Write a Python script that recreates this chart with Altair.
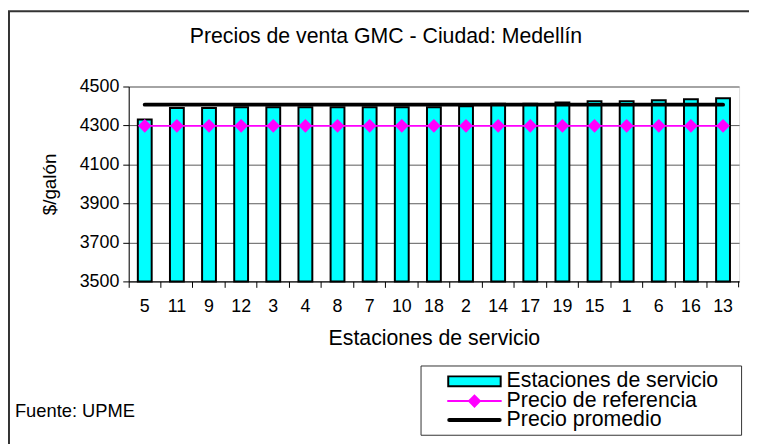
import altair as alt
import pandas as pd

# ---- data ----
estaciones = ["5", "11", "9", "12", "3", "4", "8", "7", "10", "18",
              "2", "14", "17", "19", "15", "1", "6", "16", "13"]
precios = [4331, 4390, 4390, 4393, 4393, 4393, 4393, 4393, 4393, 4393,
           4398, 4412, 4412, 4418, 4425, 4425, 4430, 4435, 4440]
precio_referencia = [4298] * len(estaciones)
precio_promedio = [4407] * len(estaciones)
y_ticks = [3500, 3700, 3900, 4100, 4300, 4500]

legend_items = ["Estaciones de servicio", "Precio de referencia", "Precio promedio"]
titulo = "Precios de venta GMC - Ciudad: Medellín"
fuente_txt = "Fuente: UPME"

FONT = "Liberation Sans"

df = pd.DataFrame({
    "estacion": estaciones,
    "precio": precios,
    "base": [3500] * len(estaciones),
    "ref": precio_referencia,
    "prom": precio_promedio,
})

W, H = 617, 197

x_axis = alt.Axis(
    title="Estaciones de servicio", labelAngle=0, bandPosition=0,
    labelFont=FONT, labelFontSize=18, labelColor="black", labelPadding=10,
    labelOverlap=False,
    titleFont=FONT, titleFontSize=21.5, titleFontWeight="normal", titleColor="black",
    titlePadding=13, tickSize=6, tickColor="black", domainColor="black",
    grid=False,
)
x_scale = alt.Scale(paddingInner=0, paddingOuter=0)
y_scale = alt.Scale(domain=[3500, 4500], zero=False, nice=False)
y_axis = alt.Axis(
    title="$/galón", values=y_ticks, format="d", labelOverlap=False,
    labelFont=FONT, labelFontSize=18, labelColor="black", labelPadding=4,
    titleFont=FONT, titleFontSize=19, titleFontWeight="normal", titleColor="black",
    titlePadding=20, tickSize=6, tickColor="black", domainColor="black",
    grid=True, gridColor="#5a5a5a", gridWidth=1, gridOpacity=1,
)


def xe():
    return alt.X("estacion:N", sort=estaciones, scale=x_scale, axis=x_axis)


def ye(field):
    return alt.Y(f"{field}:Q", scale=y_scale, axis=y_axis)


base = alt.Chart(df)

bars = base.mark_bar(color="#00FFFF", stroke="black", strokeWidth=2, size=14).encode(
    x=xe(), y=ye("precio"), y2="base:Q",
)

prom = base.mark_line(color="black", strokeWidth=4, strokeCap="round").encode(
    x=xe(), y=ye("prom"),
)

ref = base.mark_line(
    color="#FF00FF", strokeWidth=2,
    point=alt.OverlayMarkDef(shape="diamond", filled=True, color="#FF00FF", size=190, opacity=1),
).encode(
    x=xe(), y=ye("ref"),
)

one = pd.DataFrame({"a": [0]})

# closing tick at the right end of the category axis
end_tick = alt.Chart(one).mark_rule(color="black", strokeWidth=1).encode(
    x=alt.value(W - 0.5), y=alt.value(H), y2=alt.value(H + 6)
)

# ---- legend box (decoration) ----
leg_box = alt.Chart(one).mark_rect(
    fill="white", stroke="#333", strokeWidth=1
).encode(x=alt.value(295.5), x2=alt.value(619.5), y=alt.value(282.5), y2=alt.value(352.5))
leg_swatch = alt.Chart(one).mark_rect(
    fill="#00FFFF", stroke="black", strokeWidth=2
).encode(x=alt.value(323), x2=alt.value(376), y=alt.value(293), y2=alt.value(303))
leg_ref_line = alt.Chart(one).mark_rule(
    color="#FF00FF", strokeWidth=2
).encode(x=alt.value(322), x2=alt.value(377), y=alt.value(318))
leg_ref_pt = alt.Chart(one).mark_point(
    shape="diamond", filled=True, color="#FF00FF", size=190, opacity=1
).encode(x=alt.value(349.5), y=alt.value(318))
leg_prom_line = alt.Chart(one).mark_rule(
    color="black", strokeWidth=4, strokeCap="round"
).encode(x=alt.value(324), x2=alt.value(375), y=alt.value(337))

leg_texts = [
    alt.Chart(pd.DataFrame({"t": [lbl]})).mark_text(
        font=FONT, fontSize=21.5, align="left", baseline="middle", color="black"
    ).encode(x=alt.value(382), y=alt.value(yy), text="t:N")
    for lbl, yy in zip(legend_items, [298, 318, 337])
]

fuente = alt.Chart(pd.DataFrame({"t": [fuente_txt]})).mark_text(
    font=FONT, fontSize=18.5, align="left", baseline="middle", color="black"
).encode(x=alt.value(-115), y=alt.value(328), text="t:N")

title_mark = alt.Chart(pd.DataFrame({"t": [titulo]})).mark_text(
    font=FONT, fontSize=21.5, align="center", baseline="middle", color="black"
).encode(x=alt.value(260), y=alt.value(-50), text="t:N")

frame = alt.Chart(one).mark_rect(
    fill="transparent", stroke="#333", strokeWidth=2
).encode(x=alt.value(-121), x2=alt.value(700), y=alt.value(-76), y2=alt.value(400))

chart = alt.layer(
    bars, prom, ref, end_tick,
    leg_box, leg_swatch, leg_ref_line, leg_ref_pt, leg_prom_line, *leg_texts,
    fuente, title_mark, frame,
).properties(
    width=W, height=H,
    autosize=alt.AutoSizeParams(type="none"),
    padding={"left": 122, "top": 77, "right": 10, "bottom": 162},
).configure_view(
    stroke="#808080", strokeWidth=1, clip=False
).configure(background="white")

chart.save("out.html", embed_options={"renderer": "svg", "actions": False})
